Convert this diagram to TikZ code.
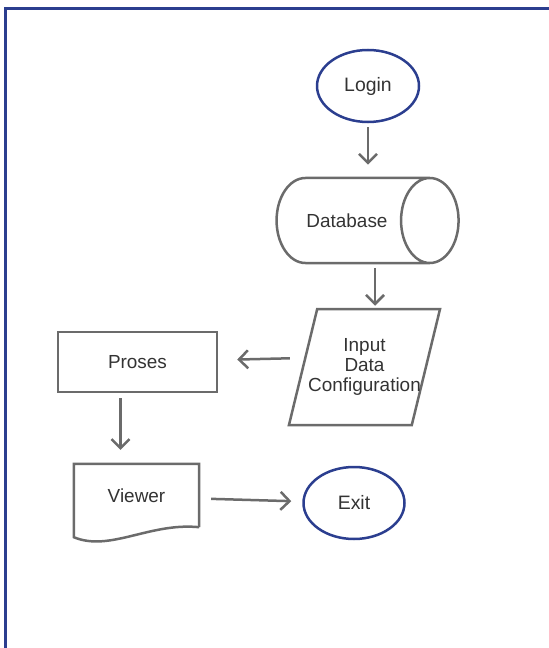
\documentclass[tikz,border=0pt]{standalone}
\usepackage{fontspec}
\setmainfont{Liberation Sans}
\usepackage{tikz}
\usetikzlibrary{arrows.meta,positioning,shapes.geometric,calc}
\definecolor{navyline}{HTML}{2B3E8F}
\definecolor{greyline}{HTML}{6B6B6B}
\definecolor{inkgrey}{HTML}{333333}
\tikzset{
  oval/.style     = {ellipse, draw=navyline, line width=2.5bp, text=inkgrey,
                     font=\fontsize{19.5}{20}\selectfont},
  dbase/.style    = {cylinder, draw=greyline, line width=2.5bp, aspect=2.8,
                     text=inkgrey, font=\fontsize{19}{20}\selectfont},
  iobox/.style    = {trapezium, trapezium left angle=66, trapezium right angle=114,
                     trapezium stretches=true, draw=greyline, line width=2.5bp,
                     inner xsep=-9bp,
                     text=inkgrey, align=center, font=\fontsize{19}{20}\selectfont},
  procbox/.style  = {rectangle, draw=greyline, line width=2.5bp, text=inkgrey,
                     font=\fontsize{19}{20}\selectfont},
  docbox/.style   = {rectangle, text=inkgrey, font=\fontsize{19}{20}\selectfont},
  flow/.style     = {-{Straight Barb[length=9bp,width=18bp]}, draw=greyline, line width=2.5bp},
  frameline/.style= {draw=navyline, line width=2.5bp},
}
\begin{document}
\begin{tikzpicture}[x=1bp,y=-1bp]
    \useasboundingbox (0,0) rectangle (549,648);
    % outer frame
    \draw[frameline] (5.5,648) -- (5.5,8.5) -- (549,8.5);
    % nodes
    \node[oval,minimum width=102bp,minimum height=72bp] (login) at (368,86) {Login};
    \node[dbase,minimum height=182bp,minimum width=85bp] (db) at (347,220.5) {Database};
    \node[iobox,minimum width=124bp,minimum height=116bp] (inp) at (364.5,367) {Input\\Data\\Configuration};
    \node[procbox,minimum width=159bp,minimum height=60bp] (pro) at (137.5,362) {Proses};
    \node[docbox,minimum width=125bp,minimum height=63bp] (view) at (136.5,495.5) {Viewer};
    \node[oval,minimum width=101bp,minimum height=72bp] (exit) at (354,503) {Exit};
    % document outline
    \draw[greyline,line width=2.5bp] (view.south east) -- (view.north east) -- (view.north west)
      -- ([yshift=-10bp]view.south west)
      .. controls ([xshift=36bp,yshift=-25bp]view.south west)
      and ([xshift=76bp,yshift=5bp]view.south west) .. (view.south east);
    % connectors
    \draw[flow,shorten <=4bp,shorten >=12bp] (login.south) -- (login.south |- db.north);
    \draw[flow,shorten <=4bp,shorten >=2bp] ([xshift=10.5bp]inp.north |- db.south) -- ([xshift=10.5bp]inp.north);
    \draw[flow,shorten <=12bp,shorten >=19bp] ([yshift=9bp]inp.west) -- ([yshift=2bp]pro.east);
    \draw[flow,shorten <=5bp,shorten >=14bp] ([xshift=-17bp]pro.south) -- ([xshift=-17bp]pro.south |- view.north);
    \draw[flow,shorten <=12bp,shorten >=11bp] ([yshift=-3bp]view.east) -- (exit);
  \end{tikzpicture}
\end{document}
